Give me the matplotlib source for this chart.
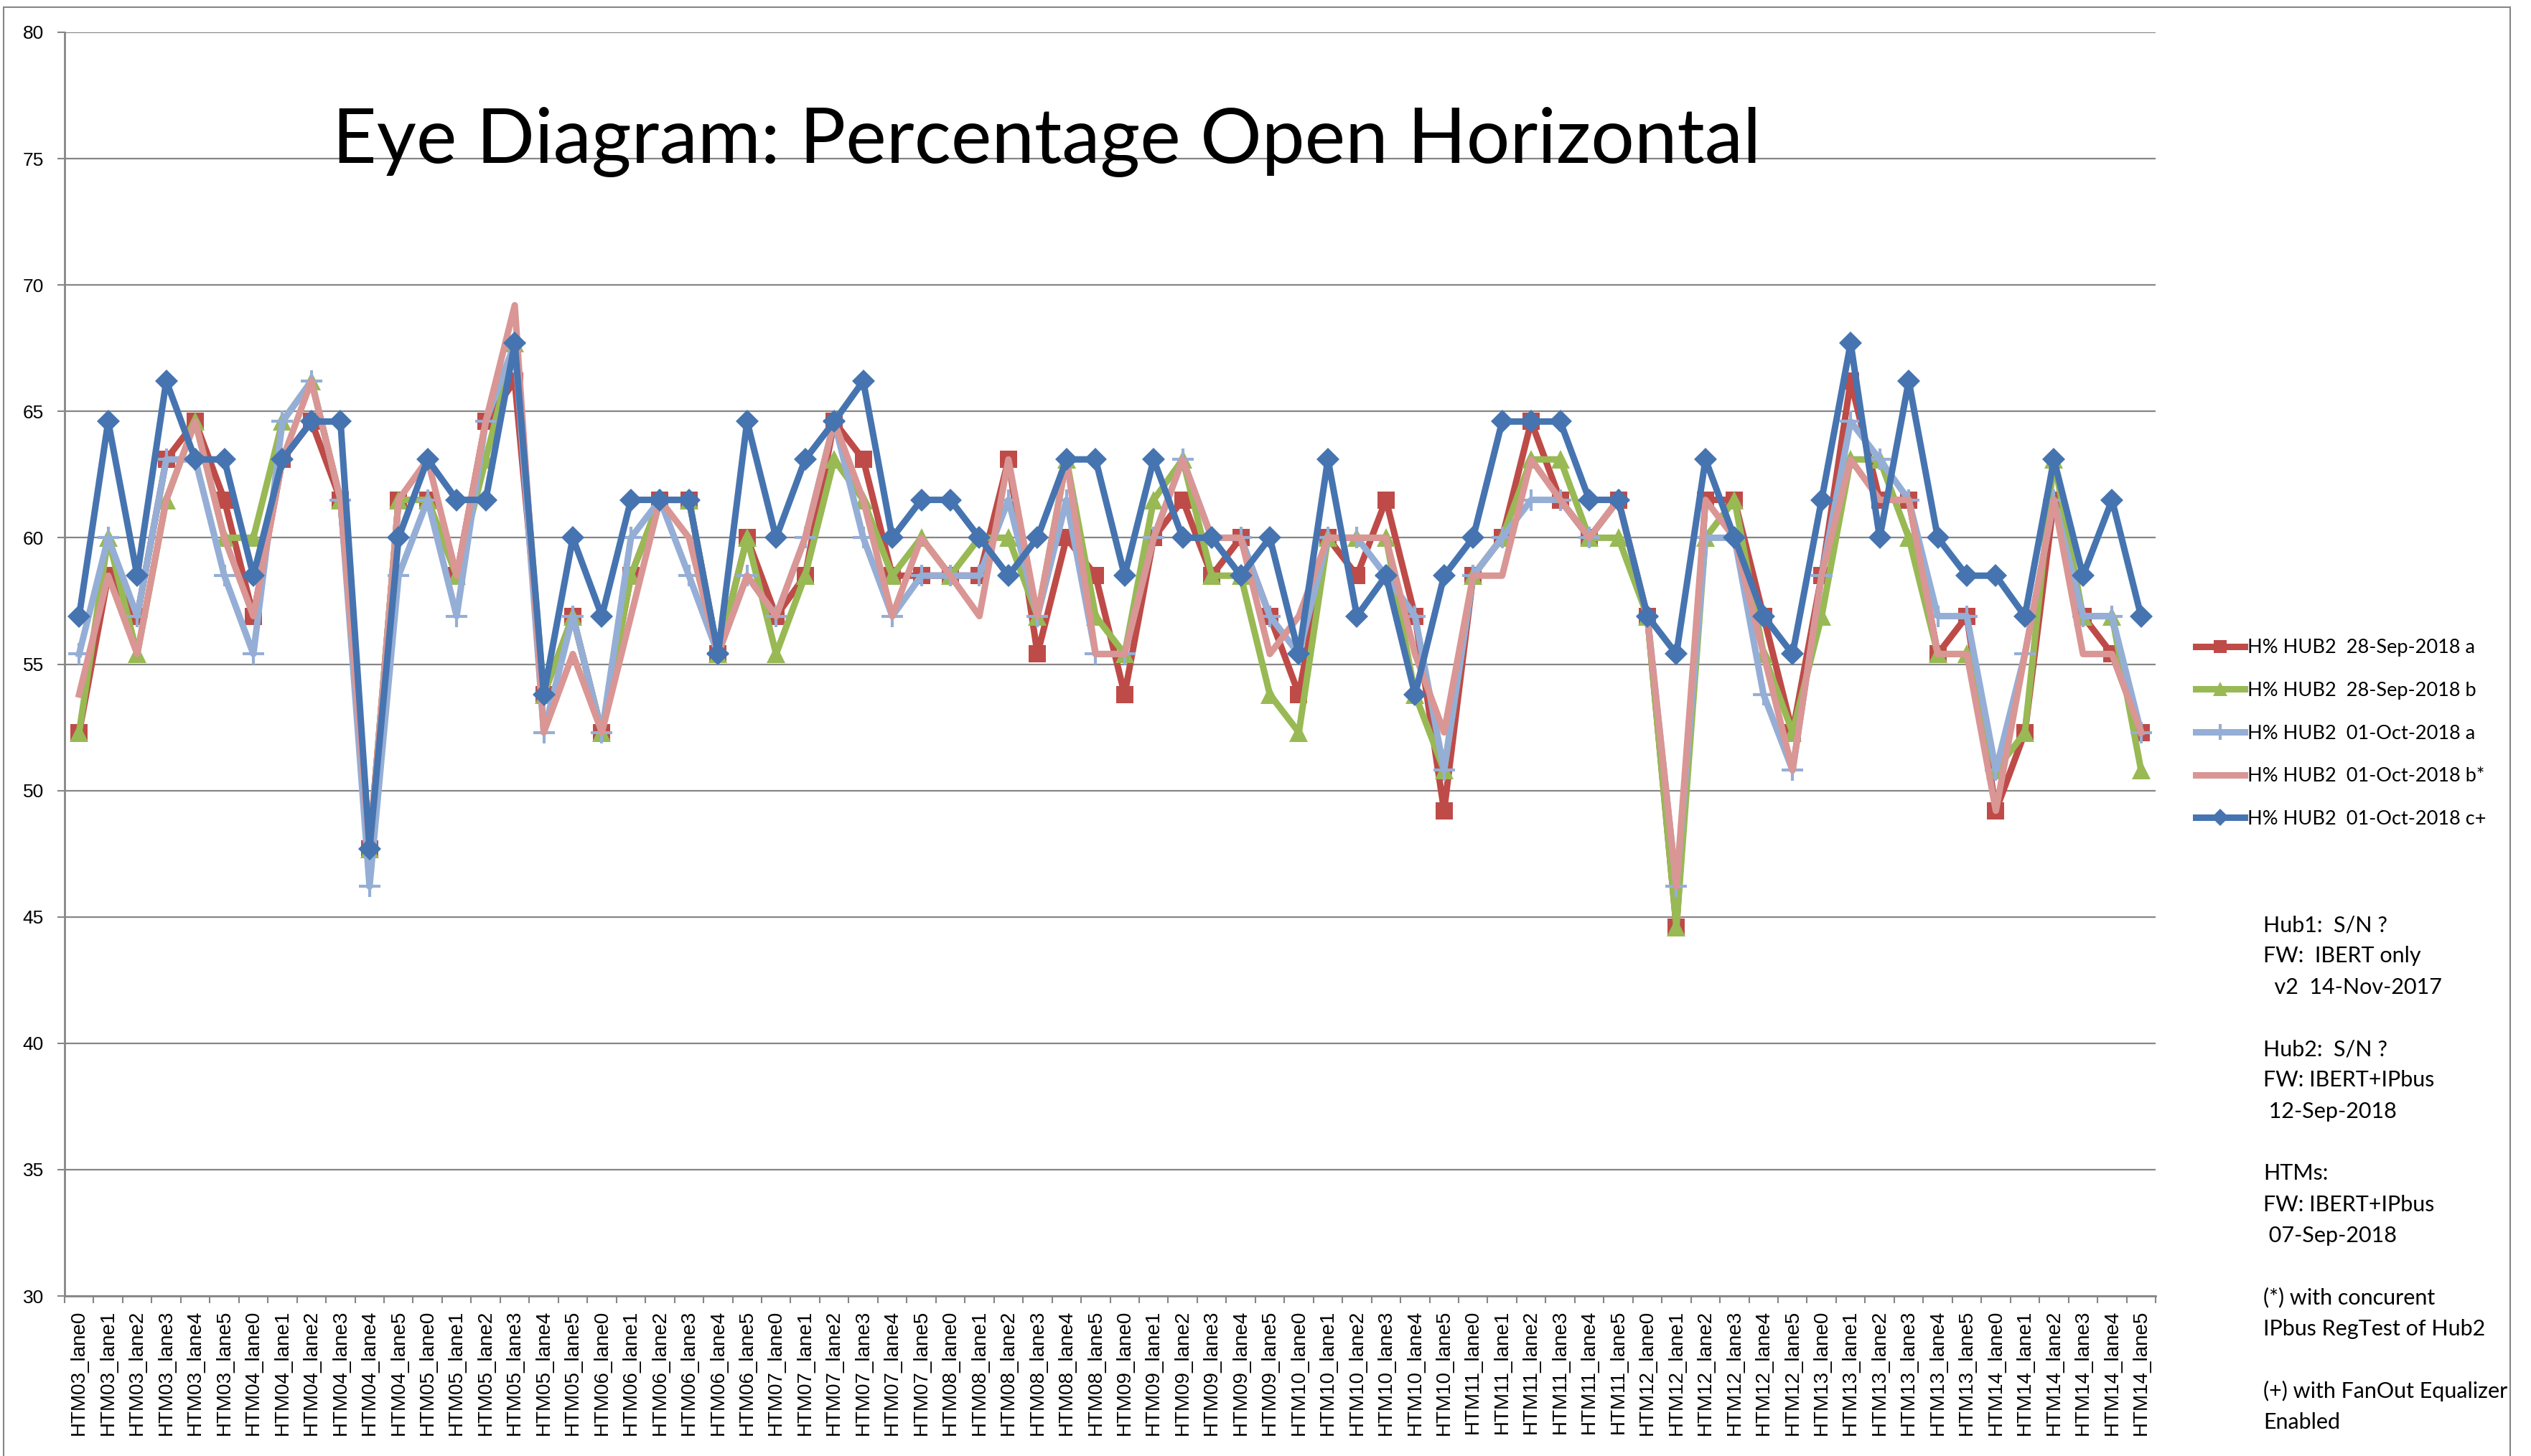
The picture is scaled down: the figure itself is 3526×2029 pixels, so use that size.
import numpy as np
import matplotlib
matplotlib.use("Agg")
import matplotlib.pyplot as plt
from matplotlib.patches import Rectangle

# categories
htms = ["03", "04", "05", "06", "07", "08", "09", "10", "11", "12", "13", "14"]
lanes = [0, 1, 2, 3, 4, 5]
categories = ["HTM%s_lane%d" % (h, l) for h in htms for l in lanes]

# H% values
sep28_a = [52.3, 58.5, 56.9, 63.1, 64.6, 61.5, 56.9, 63.1, 64.6, 61.5, 47.7, 61.5,
           61.5, 58.5, 64.6, 66.2, 53.8, 56.9, 52.3, 58.5, 61.5, 61.5, 55.4, 60.0,
           56.9, 58.5, 64.6, 63.1, 58.5, 58.5, 58.5, 58.5, 63.1, 55.4, 60.0, 58.5,
           53.8, 60.0, 61.5, 58.5, 60.0, 56.9, 53.8, 60.0, 58.5, 61.5, 56.9, 49.2,
           58.5, 60.0, 64.6, 61.5, 60.0, 61.5, 56.9, 44.6, 61.5, 61.5, 56.9, 52.3,
           58.5, 66.2, 61.5, 61.5, 55.4, 56.9, 49.2, 52.3, 61.5, 56.9, 55.4, 52.3]
sep28_b = [52.3, 60.0, 55.4, 61.5, 64.6, 60.0, 60.0, 64.6, 66.2, 61.5, 47.7, 61.5,
           61.5, 58.5, 63.1, 67.7, 53.8, 56.9, 52.3, 58.5, 61.5, 61.5, 55.4, 60.0,
           55.4, 58.5, 63.1, 61.5, 58.5, 60.0, 58.5, 60.0, 60.0, 56.9, 63.1, 56.9,
           55.4, 61.5, 63.1, 58.5, 58.5, 53.8, 52.3, 60.0, 60.0, 60.0, 53.8, 50.8,
           58.5, 60.0, 63.1, 63.1, 60.0, 60.0, 56.9, 44.6, 60.0, 61.5, 55.4, 52.3,
           56.9, 63.1, 63.1, 60.0, 55.4, 55.4, 50.8, 52.3, 63.1, 56.9, 56.9, 50.8]
oct01_a = [55.4, 60.0, 56.9, 63.1, 63.1, 58.5, 55.4, 64.6, 66.2, 61.5, 46.2, 58.5,
           61.5, 56.9, 64.6, 67.7, 52.3, 56.9, 52.3, 60.0, 61.5, 58.5, 55.4, 58.5,
           56.9, 60.0, 64.6, 60.0, 56.9, 58.5, 58.5, 58.5, 61.5, 56.9, 61.5, 55.4,
           55.4, 60.0, 63.1, 60.0, 60.0, 56.9, 55.4, 60.0, 60.0, 58.5, 56.9, 50.8,
           58.5, 60.0, 61.5, 61.5, 60.0, 61.5, 56.9, 46.2, 60.0, 60.0, 53.8, 50.8,
           58.5, 64.6, 63.1, 61.5, 56.9, 56.9, 50.8, 55.4, 61.5, 56.9, 56.9, 52.3]
oct01_b = [53.8, 58.5, 55.4, 61.5, 64.6, 60.0, 56.9, 63.1, 66.2, 61.5, 47.7, 61.5,
           63.1, 58.5, 64.6, 69.2, 52.3, 55.4, 52.3, 56.9, 61.5, 60.0, 55.4, 58.5,
           56.9, 60.0, 64.6, 61.5, 56.9, 60.0, 58.5, 56.9, 63.1, 56.9, 63.1, 55.4,
           55.4, 60.0, 63.1, 60.0, 60.0, 55.4, 56.9, 60.0, 60.0, 60.0, 55.4, 52.3,
           58.5, 58.5, 63.1, 61.5, 60.0, 61.5, 56.9, 46.2, 61.5, 60.0, 55.4, 50.8,
           58.5, 63.1, 61.5, 61.5, 55.4, 55.4, 49.2, 55.4, 61.5, 55.4, 55.4, 52.3]
oct01_c = [56.9, 64.6, 58.5, 66.2, 63.1, 63.1, 58.5, 63.1, 64.6, 64.6, 47.7, 60.0,
           63.1, 61.5, 61.5, 67.7, 53.8, 60.0, 56.9, 61.5, 61.5, 61.5, 55.4, 64.6,
           60.0, 63.1, 64.6, 66.2, 60.0, 61.5, 61.5, 60.0, 58.5, 60.0, 63.1, 63.1,
           58.5, 63.1, 60.0, 60.0, 58.5, 60.0, 55.4, 63.1, 56.9, 58.5, 53.8, 58.5,
           60.0, 64.6, 64.6, 64.6, 61.5, 61.5, 56.9, 55.4, 63.1, 60.0, 56.9, 55.4,
           61.5, 67.7, 60.0, 66.2, 60.0, 58.5, 58.5, 56.9, 63.1, 58.5, 61.5, 56.9]

labels = ["H% HUB2  28-Sep-2018 a", "H% HUB2  28-Sep-2018 b", "H% HUB2  01-Oct-2018 a",
          "H% HUB2  01-Oct-2018 b*", "H% HUB2  01-Oct-2018 c+"]

notes = ["Hub1:  S/N ?", "FW:  IBERT only", "  v2  14-Nov-2017", "",
         "Hub2:  S/N ?", "FW: IBERT+IPbus", " 12-Sep-2018", "",
         "HTMs:", "FW: IBERT+IPbus", " 07-Sep-2018", "",
         "(*) with concurent", "IPbus RegTest of Hub2", "",
         "(+) with FanOut Equalizer", "Enabled"]

W, H = 3526, 2029
fig = plt.figure(figsize=(W / 100, H / 100), dpi=100)
ax = fig.add_axes([90 / W, 1 - 1806 / H, (3003 - 90) / W, (1806 - 45) / H])

x = np.arange(len(categories))
grey = "#868686"

# series styles (colour, marker, size)
styles = [
    (sep28_a, "#BE4B48", "s", 17, 0),
    (sep28_b, "#98B954", "^", 19, 0),
    (oct01_a, "#95AED6", "+", 22, 3),
    (oct01_b, "#D99694", "None", 0, 0),
    (oct01_c, "#4674B0", "D", 16, 0),
]
handles = []
for (vals, col, mk, ms, mew), lab in zip(styles, labels):
    if mk == "+":
        h, = ax.plot(x, vals, color=col, lw=6.5, marker=mk, ms=ms, mew=mew,
                     mec=col, label=lab)
    else:
        h, = ax.plot(x, vals, color=col, lw=6.5, marker=mk, ms=ms, mfc=col,
                     mec=col, mew=0, label=lab)
    handles.append(h)

ax.set_xlim(-0.5, len(categories) - 0.5)
ax.set_ylim(30, 80)
ax.set_yticks(np.arange(30, 81, 5))
ax.grid(axis="y", color=grey, lw=1.6)
ax.set_axisbelow(True)

ax.set_xticks(x)
ax.set_xticklabels(categories, rotation=90, fontsize=20, family="Liberation Sans")
ax.set_xticks(np.arange(-0.5, len(categories), 1), minor=True)
ax.tick_params(axis="x", which="major", length=0, pad=14)
ax.tick_params(axis="x", which="minor", length=7, width=1.5, color=grey)
ax.tick_params(axis="y", length=7, width=1.5, color=grey, pad=14, labelsize=19)
for t in ax.get_yticklabels():
    t.set_family("Liberation Sans")

for s in ["top", "right"]:
    ax.spines[s].set_visible(False)
for s in ["left", "bottom"]:
    ax.spines[s].set_color(grey)
    ax.spines[s].set_linewidth(2)

# title
fig.text(463 / W, 1 - 227 / H, "Eye Diagram: Percentage Open Horizontal",
         fontsize=77, family="Lato", ha="left", va="baseline")

# legend
fig.legend(handles=handles, loc="center left", bbox_to_anchor=(3035 / W, 1 - 1022 / H),
           frameon=False, prop={"family": "Lato", "size": 19.5},
           handlelength=2.5, handletextpad=0.15, labelspacing=1.28, markerscale=0.75)

# notes on the right
for i, line in enumerate(notes):
    if line:
        fig.text(3153 / W, 1 - (1289 + 43.3 * i) / H, line, fontsize=22,
                 family="Lato", ha="left", va="center")

# chart area border
fig.patches.append(Rectangle((5 / W, -0.02), (3497 - 5) / W, 1.02 - 10 / H,
                             transform=fig.transFigure, fill=False,
                             edgecolor=grey, lw=1.5))

fig.savefig("out.png", dpi=100)
